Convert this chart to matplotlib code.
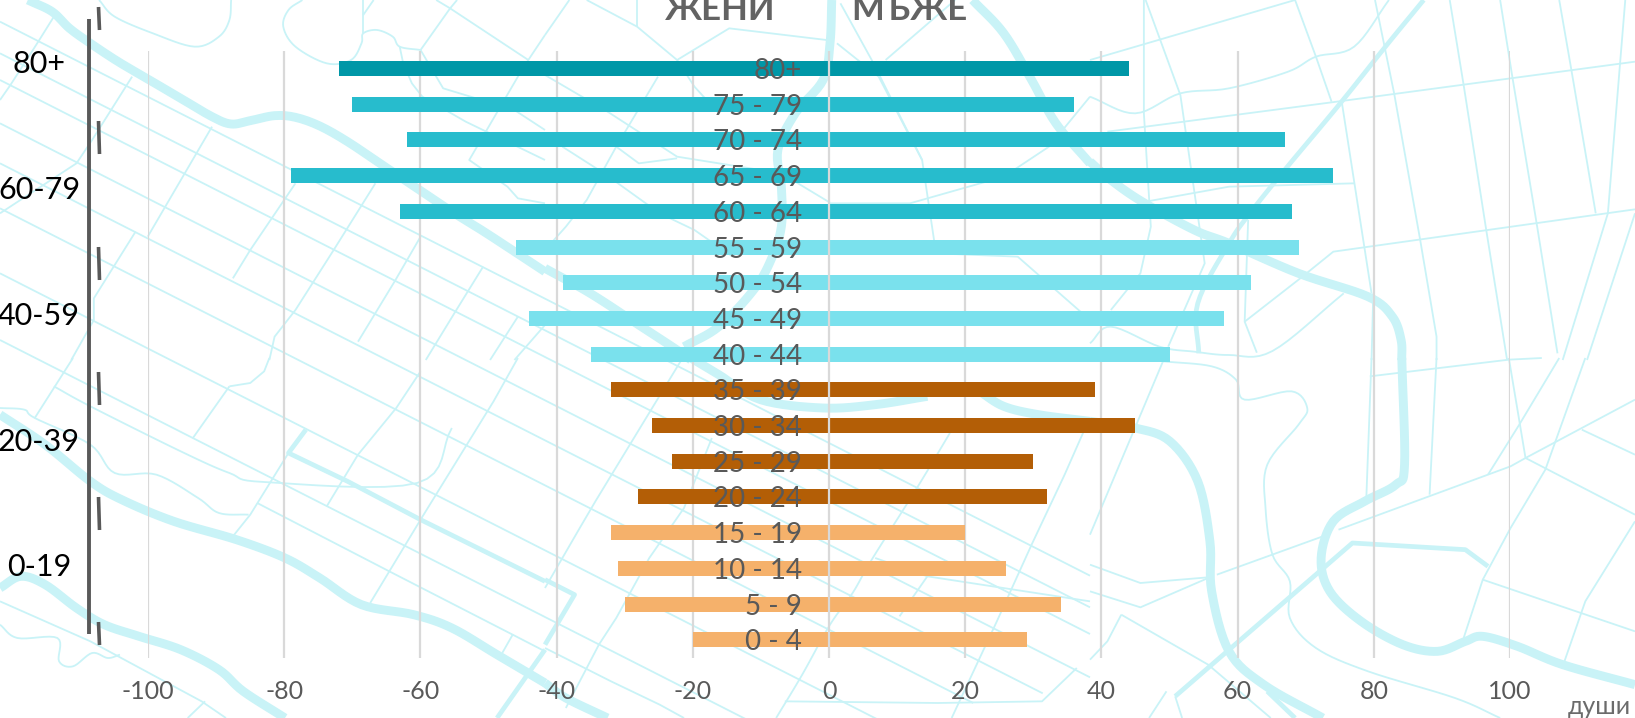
import matplotlib
matplotlib.use('Agg')
import matplotlib.pyplot as plt
import numpy as np

plt.rcParams['font.family'] = ['Lato', 'Noto Sans', 'DejaVu Sans']

age_groups = ['80+', '75 - 79', '70 - 74', '65 - 69', '60 - 64', '55 - 59', '50 - 54', '45 - 49', '40 - 44',
              '35 - 39', '30 - 34', '25 - 29', '20 - 24', '15 - 19', '10 - 14', '5 - 9', '0 - 4']
women = [72, 70, 62, 79, 63, 46, 39, 44, 35, 32, 26, 23, 28, 32, 31, 30, 20]
men = [44, 36, 67, 74, 68, 69, 62, 58, 50, 39, 45, 30, 32, 20, 26, 34, 29]
bar_colors = ['#0097a7'] + ['#27bccd'] * 4 + ['#7ae1ed'] * 4 + ['#b35e06'] * 4 + ['#f5b16b'] * 4
big_groups = ['80+', '60-79', '40-59', '20-39', '0-19']
x_ticks = [-100, -80, -60, -40, -20, 0, 20, 40, 60, 80, 100]

W, H = 1635, 718
MAP = '#c9f3f7'
SX = 545 / 1568  # crops came back 1568 wide
SY = 1 / 3

# background street map, traced per zoom tile (x, y of the tile, points in the crop)
thick = [
    (0, 0, [(80, 0), (150, 35), (200, 85), (260, 130), (340, 185), (430, 240), (520, 295), (610, 350), (665, 372), (720, 362), (790, 347), (850, 352), (920, 378), (1000, 425), (1100, 495), (1200, 565), (1300, 635), (1400, 700), (1568, 815)]),
    (545, 0, [(0, 805), (130, 880), (270, 975), (380, 1050), (420, 1080)]),
    (545, 358, [(420, 0), (500, 50), (620, 125), (800, 150), (950, 140), (1100, 115)]),
    (545, 358, [(1250, 100), (1320, 145), (1420, 170), (1568, 190)]),
    (1090, 358, [(0, 190), (130, 210), (230, 250), (310, 370), (345, 550), (350, 700), (400, 880), (500, 980), (670, 1080)]),
    (545, 0, [(1230, 0), (1320, 100), (1400, 240), (1470, 370), (1568, 490)]),
    (1090, 0, [(0, 485), (60, 540), (150, 605), (300, 690), (400, 730), (600, 820), (800, 890), (870, 950), (895, 1020), (897, 1080)]),
    (1090, 358, [(897, 0), (905, 320), (880, 380), (790, 430), (700, 490), (665, 600), (690, 700), (780, 790), (900, 860), (1000, 880), (1080, 850), (1130, 835), (1230, 865), (1360, 920), (1568, 980)]),
    (545, 0, [(825, 0), (820, 130), (800, 240), (720, 340), (670, 450), (680, 560), (680, 680), (650, 780), (600, 870), (500, 980), (400, 1040)]),
    (0, 358, [(0, 170), (130, 260), (260, 370), (350, 425), (500, 490), (680, 545), (820, 600), (920, 660), (1040, 740), (1190, 770), (1300, 810), (1430, 890), (1568, 975)]),
    (545, 358, [(0, 975), (60, 1020), (180, 1080)]),
    (0, 358, [(0, 690), (60, 655), (130, 680), (220, 750), (300, 800), (400, 835), (520, 875), (630, 935), (700, 1000), (820, 1080)]),
]
medium = [
    (1090, 0, [(960, 0), (850, 140), (720, 310), (560, 510), (460, 640), (400, 730), (310, 910), (313, 1060)]),
    (1090, 358, [(245, 1015), (755, 555), (1080, 575), (1145, 625)]),
    (1090, 358, [(510, 1000), (590, 1080)]),
    (0, 358, [(880, 215), (830, 285), (1000, 370), (1210, 485), (1568, 670)]),
    (545, 358, [(0, 665), (85, 710), (0, 860)]),
    (0, 358, [(1568, 875), (1430, 1080)]),
]
thin = [
    # long parallel streets, crop A coordinates run on past the crop
    (0, 0, [(0, 65), (3136, 1727)]),
    (0, 0, [(0, 160), (3136, 1822)]),
    (0, 0, [(0, 240), (3136, 1902)]),
    (0, 0, [(0, 370), (3136, 2032)]),
    (0, 0, [(0, 490), (3000, 2080)]),
    (0, 0, [(0, 625), (2800, 2109)]),
    (0, 0, [(0, 820), (2700, 2251)]),
    (0, 0, [(0, 1020), (2400, 2292)]),
    # tile A
    (0, 0, [(155, 50), (110, 125), (30, 255), (0, 300)]),
    (0, 0, [(380, 230), (265, 420), (220, 490), (0, 640)]),
    (0, 0, [(610, 380), (425, 710)]),
    (0, 0, [(390, 695), (270, 895), (270, 960), (205, 1080)]),
    (0, 0, [(850, 550), (720, 750), (670, 835)]),
    (0, 0, [(1080, 550), (960, 750), (850, 930), (790, 1010), (775, 1080)]),
    (0, 0, [(1210, 710), (1135, 845), (1030, 1025)]),
    (0, 0, [(1390, 800), (1310, 935), (1225, 1080)]),
    (0, 0, [(1490, 950), (1410, 1080)]),
    (0, 0, [(1568, 975), (1480, 1080)]),
    (0, 0, [(285, 0), (330, 50), (440, 100), (560, 140), (630, 110), (660, 60), (665, 0)]),
    (0, 0, [(870, 0), (830, 30), (815, 80), (850, 140), (940, 190), (1010, 180), (1040, 130), (1045, 100), (1085, 90), (1130, 110), (1150, 140), (1210, 150)]),
    (0, 0, [(1045, 0), (1045, 100)]),
    (0, 0, [(1075, 0), (1045, 45)]),
    (0, 0, [(1150, 140), (1160, 190), (1185, 250), (1215, 290), (1340, 365), (1568, 480)]),
    (0, 0, [(1210, 150), (1295, 25), (1315, 0)]),
    (0, 0, [(1255, 0), (1295, 25), (1520, 180), (1568, 105)]),
    (0, 0, [(1520, 180), (1490, 230), (1350, 480), (1460, 560), (1490, 595), (1568, 610)]),
    (0, 0, [(1210, 150), (1275, 265), (1480, 330), (1568, 390)]),
    # tile B
    (545, 0, [(70, 0), (0, 105)]),
    (545, 0, [(120, 0), (265, 80), (380, 180), (530, 85), (810, 120)]),
    (545, 0, [(265, 0), (265, 80)]),
    (545, 0, [(380, 180), (430, 260), (500, 340)]),
    (545, 0, [(0, 225), (180, 335), (380, 470), (680, 520), (820, 608)]),
    (545, 0, [(325, 230), (205, 440), (120, 600), (60, 680), (0, 750)]),
    (545, 0, [(205, 440), (270, 490), (380, 475)]),
    (545, 0, [(50, 440), (170, 520), (330, 640), (430, 690), (540, 770)]),
    (545, 0, [(840, 130), (960, 230), (1085, 480), (1125, 760), (1360, 770), (1568, 960)]),
    (545, 0, [(850, 10), (940, 180), (1085, 480)]),
    (545, 0, [(980, 180), (1180, 0)]),
    (545, 0, [(820, 610), (1050, 610), (1320, 530), (1450, 440), (1568, 290)]),
    # tile C
    (1090, 0, [(0, 290), (130, 340), (260, 280), (400, 265), (570, 215), (650, 170), (760, 140), (860, 0)]),
    (1090, 0, [(0, 180), (590, 0)]),
    (1090, 0, [(155, 0), (155, 340), (175, 680), (145, 820), (60, 930)]),
    (1090, 0, [(160, 0), (260, 285), (330, 790), (225, 1040)]),
    (1090, 0, [(590, 0), (650, 170), (695, 305)]),
    (1090, 0, [(725, 310), (810, 880)]),
    (1090, 0, [(50, 395), (710, 305), (1568, 185)]),
    (1090, 0, [(160, 605), (400, 560), (760, 550)]),
    (1090, 0, [(820, 0), (875, 280), (950, 720), (997, 1010), (997, 1080)]),
    (1090, 0, [(1035, 0), (1075, 255), (1140, 690), (1200, 1080)]),
    (1090, 0, [(1180, 0), (1215, 230), (1285, 670), (1345, 1060)]),
    (1090, 0, [(1350, 0), (1385, 210), (1455, 640)]),
    (1090, 0, [(1540, 0), (1525, 190), (1490, 640), (1360, 1080)]),
    (1090, 0, [(1568, 640), (1430, 1080)]),
    (1090, 0, [(0, 1030), (60, 980), (200, 1040), (300, 1055), (400, 1065), (525, 1053), (730, 880)]),
    (1090, 0, [(445, 965), (605, 835), (700, 755), (1568, 628)]),
    (1090, 0, [(455, 660), (445, 965), (480, 1058)]),
    (1090, 0, [(810, 1080), (815, 880)]),
    # tile D
    (0, 358, [(0, 150), (70, 155), (100, 180), (260, 260), (330, 345), (450, 350), (570, 420), (630, 465), (715, 470)]),
    (0, 358, [(155, 85), (260, 145), (520, 280), (660, 345), (760, 372), (1200, 375), (1300, 210)]),
    (0, 358, [(1210, 40), (1140, 150), (1030, 290), (940, 445)]),
    (0, 358, [(210, 0), (100, 180)]),
    (0, 358, [(660, 85), (555, 240)]),
    (0, 358, [(660, 85), (720, 75), (760, 40), (775, 0)]),
    (0, 358, [(830, 285), (720, 470), (670, 535)]),
    (0, 358, [(740, 435), (1120, 640), (1475, 830), (1568, 880)]),
    (0, 358, [(0, 730), (260, 850), (580, 1030), (650, 1080)]),
    (0, 358, [(0, 800), (50, 840), (165, 840), (170, 910), (210, 925), (265, 885), (310, 900), (345, 890)]),
    (0, 358, [(590, 1030), (540, 1080)]),
    (0, 358, [(1065, 735), (1210, 485), (1420, 130), (1490, 0)]),
    (0, 358, [(1475, 830), (1445, 885)]),
    # tile E
    (545, 358, [(0, 870), (190, 970), (330, 1040), (400, 1080)]),
    (545, 358, [(390, 10), (250, 250), (145, 430), (100, 510), (0, 690)]),
    (545, 358, [(480, 240), (400, 450), (300, 600), (205, 780), (155, 860), (60, 1050)]),
    (545, 358, [(1165, 225), (1070, 390), (940, 605), (885, 705), (820, 800), (740, 950), (665, 1080)]),
    (545, 358, [(1550, 220), (1495, 350), (1400, 560), (1300, 790), (1170, 1080)]),
    (545, 358, [(690, 1030), (1130, 1035), (1430, 1030), (1530, 930)]),
    (545, 358, [(950, 600), (1100, 655), (1568, 730)]),
    (545, 358, [(1100, 655), (1020, 775)]),
    # tile F
    (1090, 358, [(810, 0), (795, 420)]),
    (1090, 358, [(805, 55), (1205, 5), (1300, 0)]),
    (1090, 358, [(1205, 0), (1253, 300), (1568, 470)]),
    (1090, 358, [(715, 515), (1210, 325), (1253, 300), (1568, 125)]),
    (1090, 358, [(1415, 215), (1568, 290)]),
    (1090, 358, [(1425, 0), (1310, 335), (1210, 510), (1130, 665), (1075, 840)]),
    (1090, 358, [(1350, 0), (1235, 200), (1145, 350)]),
    (1090, 358, [(1130, 665), (1568, 820)]),
    (1090, 358, [(1568, 490), (1425, 730), (1365, 910)]),
    (1090, 358, [(0, 620), (145, 675), (340, 658)]),
    (1090, 358, [(0, 700), (145, 748), (340, 660)]),
    (1090, 358, [(365, 650), (670, 535)]),
    (1090, 358, [(210, 10), (0, 530)]),
    (1090, 358, [(210, 10), (350, 25), (420, 65), (445, 125), (580, 100), (625, 150), (600, 200), (510, 320), (505, 450), (525, 590), (575, 670), (575, 780), (650, 870), (800, 940), (1050, 1020), (1180, 1080)]),
    (1090, 358, [(90, 770), (340, 920), (520, 1080)]),
    (1090, 358, [(90, 770), (50, 850), (0, 905)]),
    (1090, 358, [(245, 1015), (265, 1080)]),
    (1090, 358, [(220, 1000), (170, 1080)]),
    (1090, 358, [(997, 0), (977, 410)]),
]
# dark axis strokes on the left, in pixels
ticks_left = [(7, 30), (121, 154), (247, 280), (372, 405), (497, 530), (622, 645)]
group_y = [64, 190, 316, 442, 567]


def smooth(xs, ys, n=8):
    # catmull-rom through the traced points, only to round the map curves
    p = np.column_stack([xs, ys]).astype(float)
    p = np.vstack([2 * p[0] - p[1], p, 2 * p[-1] - p[-2]])
    out = []
    for i in range(1, len(p) - 2):
        for t in np.linspace(0, 1, n, endpoint=False):
            out.append(0.5 * (2 * p[i] + (p[i + 1] - p[i - 1]) * t
                              + (2 * p[i - 1] - 5 * p[i] + 4 * p[i + 1] - p[i + 2]) * t ** 2
                              + (3 * p[i] - p[i - 1] - 3 * p[i + 1] + p[i + 2]) * t ** 3))
    out.append(p[-2])
    out = np.array(out)
    return out[:, 0], out[:, 1]


fig = plt.figure(figsize=(W / 100, H / 100), dpi=100)

bg = fig.add_axes([0, 0, 1, 1])
bg.set_xlim(0, W)
bg.set_ylim(H, 0)
bg.axis('off')

for paths, lw in [(thin, 1.3), (medium, 3.4), (thick, 6.4)]:
    for ox, oy, pts in paths:
        xs = [ox + p[0] * SX for p in pts]
        ys = [oy + p[1] * SY for p in pts]
        if paths is thick or len(pts) >= 7:
            xs, ys = smooth(xs, ys)
        bg.plot(xs, ys, color=MAP, lw=lw, solid_joinstyle='round', solid_capstyle='butt')

bg.plot([89, 89], [19, 634], color='#595959', lw=2.8, solid_capstyle='butt')
for y0, y1 in ticks_left:
    bg.plot([98.5, 99.5], [y0, y1], color='#595959', lw=2.6, solid_capstyle='butt')
for lab, y in zip(big_groups, group_y):
    bg.text(39, y, lab, color='black', fontsize=22, ha='center', va='center')

bg.text(720, 20, 'ЖЕНИ', color='#636363', fontsize=25, fontweight='bold', ha='center', va='baseline')
bg.text(909, 20, 'МЪЖЕ', color='#636363', fontsize=25, fontweight='bold', ha='center', va='baseline')
bg.text(1599, 707, 'души', color='#6b6b6b', fontsize=18, ha='center', va='center')

# the chart itself: -100 at x=148px, 100 at x=1510px, rows 35.71px apart
ax = fig.add_axes([148.1 / W, 1 - 658 / H, (1510 - 148.1) / W, (658 - 51) / H])
ax.patch.set_alpha(0)
ax.set_xlim(-100, 100)
ax.set_ylim(16.51, -0.49)
for s in ax.spines.values():
    s.set_visible(False)

rows = list(range(len(age_groups)))
ax.barh(rows, [-v for v in women], height=0.42, color=bar_colors, zorder=3)
ax.barh(rows, men, height=0.42, color=bar_colors, zorder=3)

for v in x_ticks:
    ax.axvline(v, color='#d9d9d9', lw=1.6, zorder=4 if v == 0 else 1)

for y, lab in zip(rows, age_groups):
    ax.text(-3.95, y + 0.07, lab, color='#595959', fontsize=20, ha='right', va='center', zorder=5)

ax.set_yticks([])
ax.set_xticks(x_ticks)
ax.set_xticklabels([str(v) for v in x_ticks], color='#595959', fontsize=18)
ax.tick_params(axis='x', length=0, pad=16)

fig.savefig('out.png', dpi=100)
